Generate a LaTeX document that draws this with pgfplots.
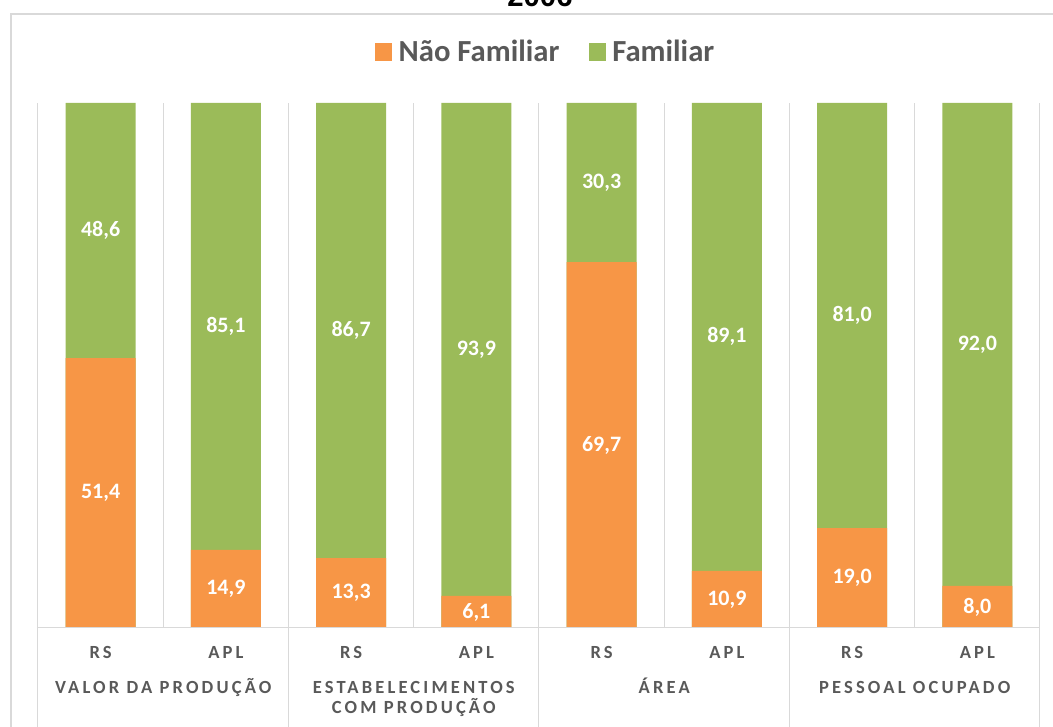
\documentclass[border=0pt]{standalone}
\usepackage{pgfplots}
\pgfplotsset{compat=1.18}
\usepackage{pgfplotstable}
\usepackage{fontspec}
\setmainfont{Carlito}
\newfontfamily\titlefont{Liberation Sans}
\newfontfamily\tickfont[LetterSpace=17]{Carlito}
\definecolor{nfc}{HTML}{F79646}
\definecolor{famc}{HTML}{9BBB59}
\definecolor{gridc}{HTML}{D9D9D9}
\definecolor{txt}{HTML}{595959}
\pgfplotstableread{
x nf f
0 51.4 48.6
1 14.9 85.1
2 13.3 86.7
3 6.1 93.9
4 69.7 30.3
5 10.9 89.1
6 19.0 81.0
7 8.0 92.0
}\data
\begin{document}
\begin{tikzpicture}
\begin{axis}[
  at={(0,0)}, anchor=south west,
  scale only axis,
  width=751.5pt, height=393.75pt,
  xmin=-0.5, xmax=7.5, ymin=0, ymax=100,
  clip=false,
  axis line style={draw=none},
  ytick=\empty,
  xtick={0,...,7},
  xticklabels={RS,APL,RS,APL,RS,APL,RS,APL},
  major tick length=0pt, minor tick length=0pt,
  minor xtick={-0.5,0.5,...,7.5},
  xminorgrids,
  minor grid style={gridc, line width=0.75pt},
  xticklabel style={font=\tickfont\bfseries\fontsize{13.9}{16}\selectfont, text=txt, anchor=base, yshift=-23.25pt},
  legend style={at={(rel axis cs:0.507,1.0971)}, anchor=center, draw=none, fill=none,
    legend columns=2, font=\bfseries\fontsize{23}{26}\selectfont, text=txt,
    /tikz/every even column/.append style={column sep=20pt}},
  legend image code/.code={\fill[#1, draw=none] (0pt,-6.75pt) rectangle (12.75pt,6.75pt); \path (15.5pt,0pt);},
  every node near coord/.append style={anchor=center, text=white, font=\bfseries\fontsize{16.5}{18}\selectfont},
  /pgf/number format/.cd, use comma, fixed, fixed zerofill, precision=1, assume math mode=true,
]
\addlegendimage{fill=nfc}
\addlegendentry{Não Familiar}
\addlegendimage{fill=famc}
\addlegendentry{Familiar}
\addplot[ybar, bar width=0.559, bar shift=0, fill=famc, draw=none, forget plot]
  table[x=x, y expr=\thisrow{nf}+\thisrow{f}] {\data};
\addplot[ybar, bar width=0.559, bar shift=0, fill=nfc, draw=none, forget plot]
  table[x=x, y=nf] {\data};
\addplot[draw=none, mark=none, forget plot, nodes near coords, nodes near coords align=center, point meta=explicit]
  table[x=x, y expr=\thisrow{nf}/2, meta=nf] {\data};
\addplot[draw=none, mark=none, forget plot, nodes near coords, nodes near coords align=center, point meta=explicit]
  table[x=x, y expr=\thisrow{nf}+\thisrow{f}/2, meta=f] {\data};
\draw[gridc, line width=0.75pt] (rel axis cs:0,0) -- (rel axis cs:1,0);
\draw[gridc, line width=0.75pt] (axis cs:-0.5,0) -- ++(0pt,-80pt);
\draw[gridc, line width=0.75pt] (axis cs:1.5,0) -- ++(0pt,-80pt);
\draw[gridc, line width=0.75pt] (axis cs:3.5,0) -- ++(0pt,-80pt);
\draw[gridc, line width=0.75pt] (axis cs:5.5,0) -- ++(0pt,-80pt);
\draw[gridc, line width=0.75pt] (axis cs:7.5,0) -- ++(0pt,-80pt);
\node[font=\tickfont\bfseries\fontsize{13.9}{16}\selectfont, text=txt, anchor=base] at ([yshift=-49.5pt]axis cs:0.5,0) {VALOR DA PRODUÇÃO};
\node[font=\tickfont\bfseries\fontsize{13.9}{16}\selectfont, text=txt, anchor=base] at ([yshift=-49.5pt]axis cs:2.5,0) {ESTABELECIMENTOS};
\node[font=\tickfont\bfseries\fontsize{13.9}{16}\selectfont, text=txt, anchor=base] at ([yshift=-64.5pt]axis cs:2.5,0) {COM PRODUÇÃO};
\node[font=\tickfont\bfseries\fontsize{13.9}{16}\selectfont, text=txt, anchor=base] at ([yshift=-49.5pt]axis cs:4.5,0) {ÁREA};
\node[font=\tickfont\bfseries\fontsize{13.9}{16}\selectfont, text=txt, anchor=base] at ([yshift=-49.5pt]axis cs:6.5,0) {PESSOAL OCUPADO};
\end{axis}
\draw[gridc, line width=1.5pt] (-20.25pt,-100pt) rectangle (800pt,460.5pt);
\node[font=\titlefont\bfseries\fontsize{22}{26}\selectfont, anchor=base] at (376.5pt,465.75pt) {2006};
\pgfresetboundingbox
\useasboundingbox (-28.5pt,-74.25pt) rectangle (761.25pt,471pt);
\end{tikzpicture}
\end{document}
